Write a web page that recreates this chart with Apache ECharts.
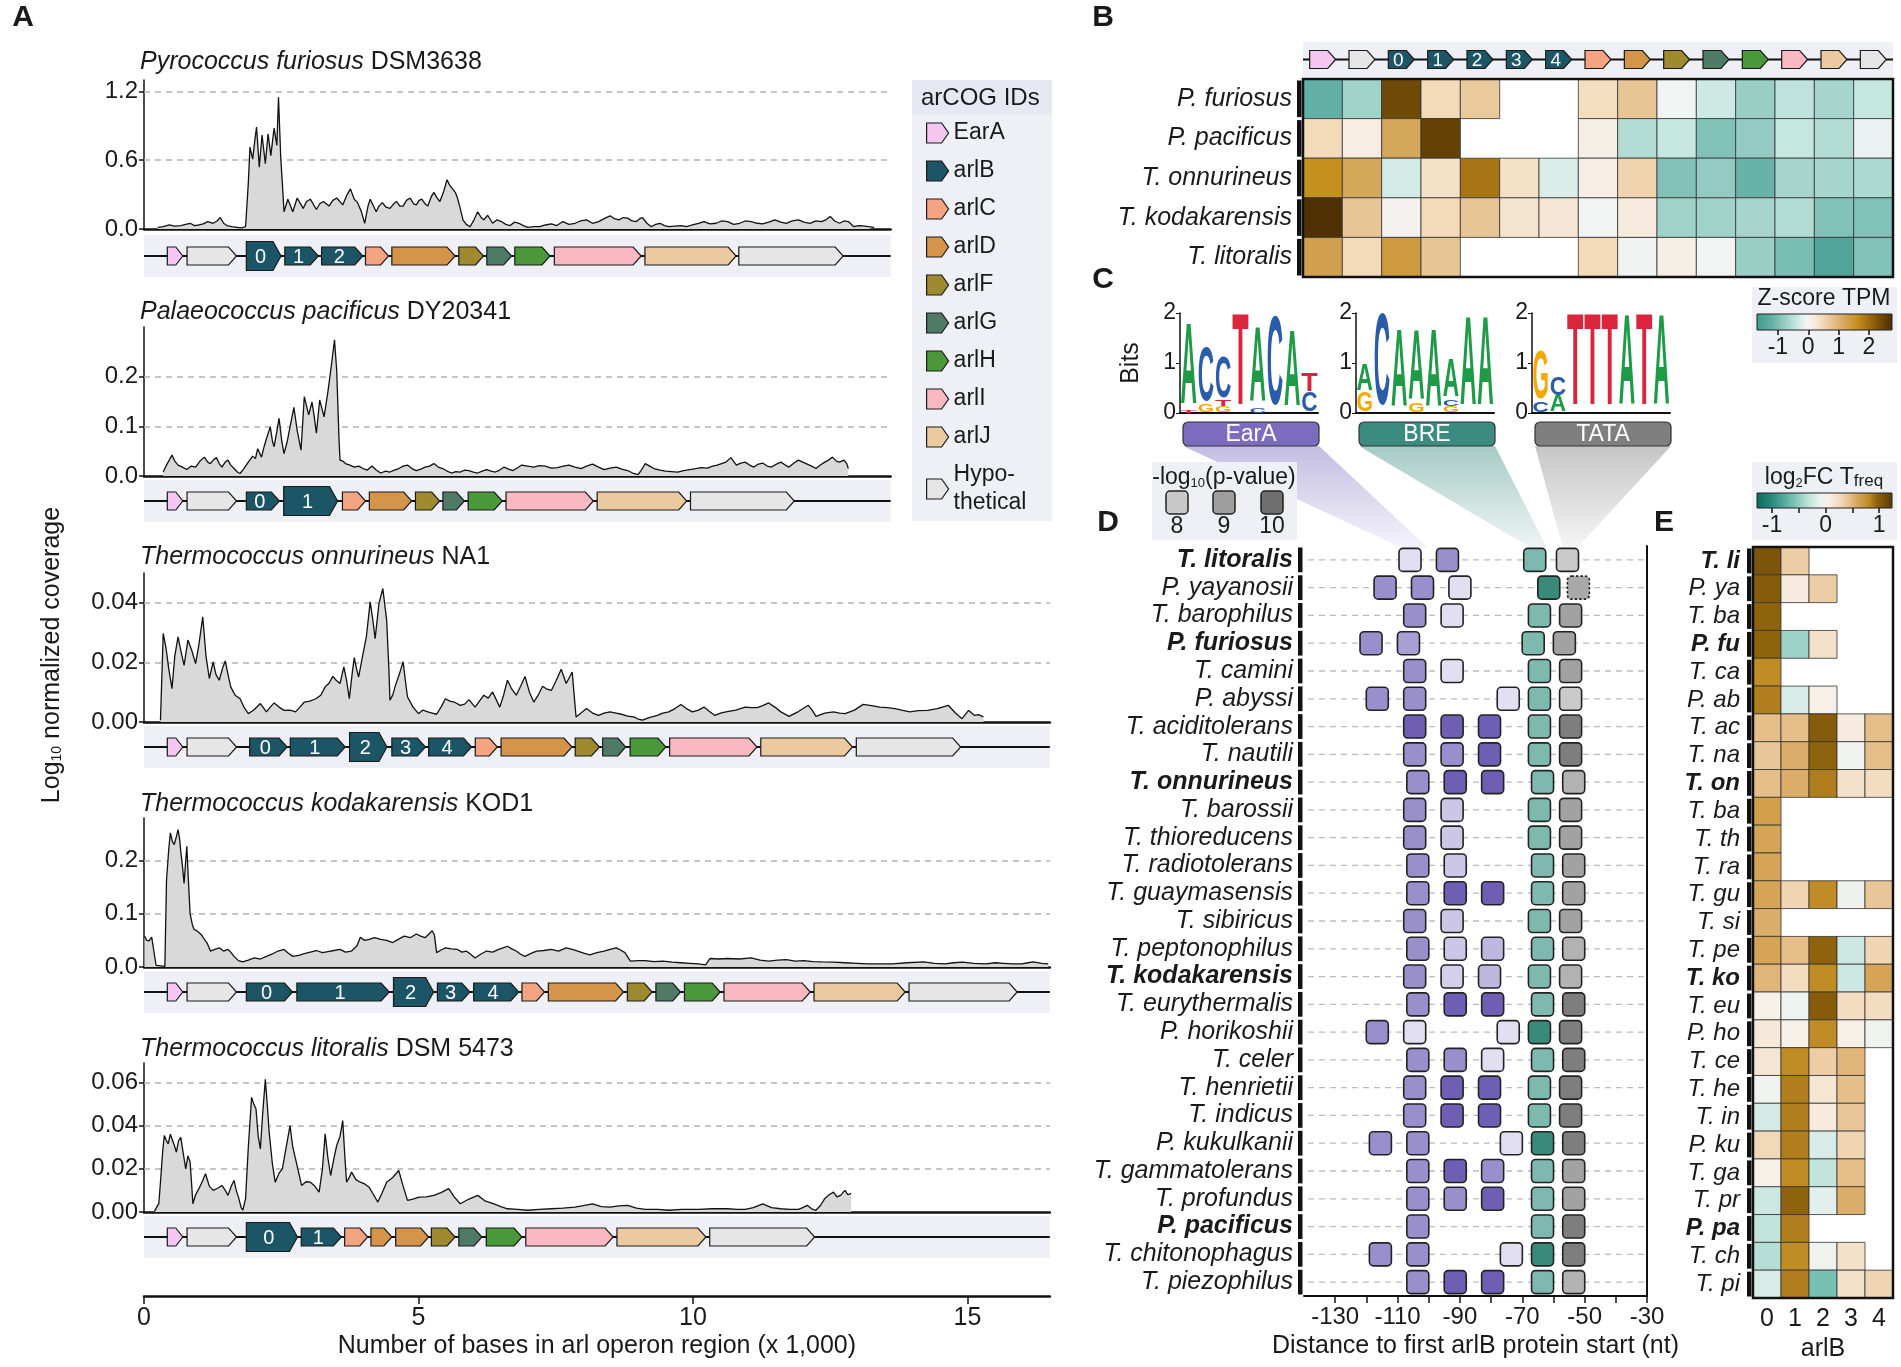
<!DOCTYPE html>
<html><head><meta charset="utf-8">
<script src="https://cdn.jsdelivr.net/npm/echarts@6/dist/echarts.min.js"></script>
<style>html,body{margin:0;padding:0;background:#fff}#c{width:1901px;height:1367px}</style>
</head><body><div id="c"></div>
<script>
// ===================== DATA =====================
const geneTypes = ['EarA','arlB','arlC','arlD','arlF','arlG','arlH','arlI','arlJ','Hypothetical'];
const titleA = [['Pyrococcus furiosus','DSM3638'],['Palaeococcus pacificus','DY20341'],['Thermococcus onnurineus','NA1'],['Thermococcus kodakarensis','KOD1'],['Thermococcus litoralis','DSM 5473']];
const covMax = [1.3,0.3,0.05,0.28,0.069];
const covTicks = [[0,0.6,1.2],[0,0.1,0.2],[0,0.02,0.04],[0,0.1,0.2],[0,0.02,0.04,0.06]];
const covDec = [1,1,2,1,2];
const covXMax = [13.6,13.6,16.5,16.5,16.5];
const xTicksA = [0,5,10,15];
// coverage [kb, log10 normalized coverage]
const covPfu = [[0.25,0.015],[0.35,0.02],[0.46,0.035],[0.56,0.025],[0.67,0.03],[0.76,0.04],[0.84,0.05],[0.92,0.03],[1.0,0.035],[1.08,0.045],[1.16,0.065],[1.26,0.05],[1.33,0.07],[1.39,0.1],[1.45,0.05],[1.51,0.03],[1.6,0.02],[1.69,0.015],[1.78,0.01],[1.85,0.02],[1.9,0.4],[1.93,0.715],[1.98,0.61],[2.02,0.78],[2.05,0.89],[2.1,0.54],[2.15,0.82],[2.21,0.57],[2.26,0.83],[2.31,0.64],[2.37,0.88],[2.42,0.73],[2.45,1.15],[2.49,0.63],[2.52,0.4],[2.55,0.15],[2.62,0.26],[2.71,0.15],[2.79,0.27],[2.9,0.18],[2.96,0.24],[3.03,0.26],[3.14,0.17],[3.2,0.22],[3.27,0.24],[3.37,0.2],[3.44,0.25],[3.51,0.27],[3.62,0.21],[3.7,0.3],[3.76,0.35],[3.83,0.26],[3.89,0.23],[3.96,0.15],[4.02,0.05],[4.08,0.2],[4.12,0.26],[4.23,0.15],[4.28,0.2],[4.34,0.23],[4.41,0.19],[4.48,0.18],[4.55,0.22],[4.6,0.24],[4.66,0.2],[4.72,0.2],[4.78,0.25],[4.85,0.27],[4.91,0.22],[4.96,0.21],[5.01,0.25],[5.06,0.26],[5.12,0.22],[5.17,0.2],[5.23,0.28],[5.28,0.32],[5.34,0.27],[5.39,0.24],[5.46,0.33],[5.52,0.43],[5.57,0.38],[5.62,0.35],[5.67,0.32],[5.71,0.27],[5.76,0.18],[5.81,0.08],[5.87,0.04],[5.94,0.02],[6.01,0.08],[6.08,0.15],[6.14,0.1],[6.19,0.08],[6.26,0.12],[6.35,0.05],[6.43,0.08],[6.51,0.065],[6.59,0.04],[6.67,0.03],[6.75,0.06],[6.83,0.05],[6.91,0.03],[6.99,0.015],[7.1,0.02],[7.21,0.02],[7.31,0.035],[7.42,0.045],[7.52,0.03],[7.63,0.065],[7.74,0.04],[7.85,0.05],[7.95,0.07],[8.06,0.08],[8.17,0.05],[8.28,0.065],[8.38,0.09],[8.49,0.115],[8.57,0.09],[8.65,0.08],[8.73,0.1],[8.81,0.095],[8.89,0.07],[8.97,0.065],[9.03,0.09],[9.08,0.1],[9.16,0.05],[9.24,0.02],[9.32,0.04],[9.4,0.05],[9.48,0.03],[9.56,0.02],[9.67,0.025],[9.78,0.03],[9.88,0.02],[9.99,0.035],[10.1,0.05],[10.2,0.065],[10.31,0.045],[10.42,0.05],[10.52,0.07],[10.63,0.065],[10.74,0.04],[10.85,0.05],[10.95,0.07],[11.06,0.065],[11.17,0.05],[11.27,0.045],[11.38,0.06],[11.49,0.08],[11.6,0.06],[11.7,0.05],[11.81,0.07],[11.92,0.08],[12.02,0.06],[12.13,0.05],[12.24,0.07],[12.34,0.065],[12.42,0.08],[12.5,0.11],[12.58,0.07],[12.67,0.05],[12.75,0.07],[12.83,0.065],[12.93,0.02],[13.01,0.03],[13.09,0.027],[13.2,0.02],[13.3,0.015]];
const covPpa = [[0.35,0.008],[0.4,0.02],[0.46,0.032],[0.51,0.042],[0.56,0.03],[0.62,0.022],[0.7,0.018],[0.78,0.013],[0.86,0.02],[0.94,0.018],[1.02,0.03],[1.1,0.038],[1.16,0.028],[1.21,0.025],[1.27,0.033],[1.32,0.037],[1.37,0.025],[1.42,0.018],[1.48,0.028],[1.53,0.032],[1.58,0.022],[1.64,0.015],[1.7,0.008],[1.75,0.005],[1.82,0.015],[1.9,0.028],[1.98,0.04],[2.03,0.035],[2.07,0.055],[2.14,0.038],[2.19,0.06],[2.23,0.075],[2.3,0.099],[2.34,0.07],[2.37,0.059],[2.42,0.09],[2.46,0.116],[2.51,0.07],[2.55,0.045],[2.61,0.07],[2.66,0.099],[2.73,0.138],[2.79,0.092],[2.86,0.052],[2.92,0.16],[3.0,0.123],[3.06,0.149],[3.1,0.12],[3.14,0.086],[3.2,0.153],[3.28,0.119],[3.35,0.17],[3.41,0.22],[3.47,0.274],[3.51,0.213],[3.55,0.08],[3.57,0.032],[3.62,0.03],[3.67,0.025],[3.75,0.022],[3.83,0.018],[3.91,0.02],[3.99,0.015],[4.07,0.012],[4.15,0.02],[4.23,0.012],[4.31,0.006],[4.4,0.01],[4.48,0.008],[4.56,0.012],[4.64,0.015],[4.72,0.02],[4.8,0.022],[4.88,0.015],[4.96,0.011],[5.04,0.014],[5.12,0.018],[5.2,0.02],[5.28,0.025],[5.36,0.018],[5.44,0.015],[5.52,0.01],[5.6,0.006],[5.68,0.009],[5.76,0.008],[5.84,0.012],[5.92,0.011],[6.0,0.008],[6.08,0.006],[6.16,0.01],[6.24,0.013],[6.32,0.01],[6.4,0.008],[6.48,0.012],[6.56,0.018],[6.64,0.014],[6.72,0.011],[6.8,0.016],[6.88,0.022],[6.99,0.02],[7.1,0.018],[7.2,0.021],[7.31,0.02],[7.42,0.016],[7.53,0.017],[7.64,0.02],[7.74,0.022],[7.85,0.018],[7.96,0.015],[8.06,0.02],[8.17,0.024],[8.28,0.018],[8.38,0.013],[8.49,0.016],[8.6,0.018],[8.7,0.014],[8.81,0.011],[8.9,0.006],[9.0,0.003],[9.06,0.012],[9.13,0.025],[9.21,0.02],[9.29,0.015],[9.4,0.012],[9.5,0.01],[9.61,0.009],[9.72,0.008],[9.83,0.011],[9.94,0.013],[10.05,0.015],[10.15,0.017],[10.26,0.016],[10.36,0.02],[10.44,0.022],[10.52,0.025],[10.6,0.028],[10.69,0.037],[10.79,0.022],[10.87,0.026],[10.95,0.028],[11.03,0.022],[11.11,0.018],[11.19,0.024],[11.27,0.026],[11.35,0.02],[11.43,0.018],[11.52,0.024],[11.6,0.028],[11.68,0.022],[11.75,0.018],[11.84,0.026],[11.92,0.032],[12.0,0.028],[12.08,0.024],[12.16,0.02],[12.24,0.015],[12.32,0.022],[12.4,0.028],[12.47,0.032],[12.54,0.038],[12.61,0.03],[12.67,0.028],[12.75,0.032],[12.8,0.025],[12.83,0.015]];
const covTon = [[0.3,0.0006],[0.35,0.0297],[0.4,0.025],[0.45,0.018],[0.51,0.0112],[0.56,0.022],[0.62,0.0286],[0.67,0.024],[0.73,0.019],[0.8,0.0275],[0.87,0.024],[0.94,0.0196],[1.0,0.026],[1.07,0.0353],[1.13,0.022],[1.19,0.0146],[1.26,0.0202],[1.31,0.016],[1.37,0.014],[1.43,0.018],[1.48,0.0205],[1.53,0.016],[1.58,0.0118],[1.66,0.009],[1.75,0.0078],[1.82,0.005],[1.9,0.0028],[2.0,0.004],[2.12,0.0062],[2.23,0.0034],[2.3,0.005],[2.37,0.0064],[2.46,0.005],[2.55,0.0039],[2.66,0.004],[2.76,0.0034],[2.84,0.005],[2.92,0.0067],[3.02,0.007],[3.13,0.0078],[3.22,0.009],[3.3,0.0118],[3.37,0.013],[3.44,0.0153],[3.5,0.014],[3.57,0.0129],[3.64,0.0185],[3.69,0.014],[3.74,0.0078],[3.79,0.016],[3.83,0.0216],[3.87,0.018],[3.91,0.0151],[3.98,0.022],[4.05,0.0286],[4.12,0.0403],[4.17,0.034],[4.21,0.028],[4.28,0.0398],[4.35,0.0448],[4.42,0.0342],[4.46,0.018],[4.48,0.0073],[4.53,0.009],[4.58,0.0123],[4.65,0.016],[4.72,0.0202],[4.76,0.014],[4.8,0.0084],[4.9,0.005],[5.0,0.0028],[5.08,0.004],[5.17,0.0034],[5.25,0.003],[5.33,0.0026],[5.41,0.005],[5.49,0.0078],[5.57,0.007],[5.65,0.0067],[5.76,0.0056],[5.84,0.006],[5.92,0.0075],[6.03,0.005],[6.11,0.007],[6.19,0.009],[6.27,0.008],[6.35,0.0101],[6.48,0.005],[6.55,0.009],[6.62,0.014],[6.7,0.011],[6.78,0.009],[6.86,0.012],[6.94,0.0153],[7.02,0.01],[7.1,0.0067],[7.18,0.009],[7.26,0.012],[7.34,0.011],[7.42,0.0106],[7.51,0.014],[7.6,0.0177],[7.69,0.0129],[7.8,0.0168],[7.84,0.008],[7.87,0.0017],[7.96,0.003],[8.06,0.0045],[8.17,0.003],[8.28,0.0022],[8.38,0.003],[8.49,0.0034],[8.6,0.003],[8.7,0.0026],[8.81,0.002],[8.92,0.0017],[9.0,0.001],[9.08,0.0006],[9.2,0.0015],[9.35,0.0022],[9.45,0.003],[9.56,0.0034],[9.67,0.0045],[9.78,0.0059],[9.88,0.0045],[9.99,0.0034],[10.1,0.004],[10.2,0.005],[10.3,0.0035],[10.4,0.0022],[10.5,0.003],[10.6,0.0034],[10.78,0.004],[10.95,0.005],[11.06,0.0048],[11.17,0.0048],[11.27,0.0055],[11.38,0.0064],[11.49,0.005],[11.6,0.0034],[11.75,0.0019],[11.92,0.0035],[12.1,0.0056],[12.17,0.004],[12.24,0.0019],[12.4,0.003],[12.56,0.0034],[12.67,0.003],[12.77,0.0028],[12.94,0.004],[13.1,0.0059],[13.25,0.0055],[13.4,0.005],[13.54,0.0048],[13.68,0.0045],[13.8,0.004],[13.95,0.0034],[14.1,0.0038],[14.27,0.0039],[14.45,0.0045],[14.65,0.0056],[14.78,0.003],[14.9,0.0011],[15.02,0.0039],[15.13,0.0022],[15.2,0.0025],[15.29,0.0017]];
const covTko = [[0.01,0.058],[0.05,0.05],[0.09,0.049],[0.14,0.056],[0.19,0.023],[0.22,0.003],[0.3,0.002],[0.38,0.001],[0.41,0.163],[0.45,0.22],[0.48,0.252],[0.52,0.235],[0.55,0.23],[0.59,0.245],[0.62,0.258],[0.65,0.24],[0.67,0.217],[0.7,0.19],[0.73,0.157],[0.76,0.2],[0.78,0.227],[0.81,0.16],[0.84,0.1],[0.88,0.08],[0.91,0.071],[0.96,0.068],[1.0,0.065],[1.05,0.06],[1.1,0.052],[1.15,0.045],[1.21,0.03],[1.29,0.033],[1.37,0.036],[1.45,0.03],[1.53,0.033],[1.58,0.028],[1.64,0.02],[1.72,0.012],[1.8,0.0095],[1.9,0.013],[2.01,0.017],[2.12,0.015],[2.23,0.02],[2.33,0.024],[2.44,0.03],[2.55,0.033],[2.63,0.026],[2.71,0.02],[2.82,0.022],[2.92,0.025],[3.03,0.028],[3.14,0.031],[3.25,0.027],[3.35,0.029],[3.46,0.031],[3.57,0.033],[3.67,0.028],[3.78,0.03],[3.88,0.04],[3.94,0.056],[4.02,0.05],[4.1,0.052],[4.2,0.055],[4.31,0.052],[4.42,0.05],[4.53,0.046],[4.63,0.052],[4.74,0.058],[4.85,0.055],[4.96,0.062],[5.04,0.058],[5.12,0.055],[5.19,0.062],[5.25,0.068],[5.29,0.06],[5.33,0.027],[5.41,0.032],[5.49,0.036],[5.6,0.034],[5.71,0.033],[5.79,0.028],[5.87,0.03],[5.95,0.024],[6.03,0.017],[6.13,0.024],[6.24,0.03],[6.35,0.028],[6.46,0.033],[6.54,0.036],[6.62,0.039],[6.7,0.034],[6.78,0.03],[6.86,0.024],[6.94,0.02],[7.04,0.025],[7.15,0.03],[7.28,0.031],[7.42,0.033],[7.55,0.03],[7.69,0.036],[7.8,0.033],[7.9,0.03],[8.01,0.026],[8.12,0.023],[8.25,0.027],[8.38,0.03],[8.49,0.033],[8.6,0.036],[8.68,0.032],[8.76,0.027],[8.86,0.011],[9.0,0.012],[9.13,0.012],[9.29,0.01],[9.45,0.011],[9.62,0.009],[9.78,0.008],[9.94,0.007],[10.1,0.006],[10.23,0.004],[10.31,0.016],[10.47,0.015],[10.63,0.016],[10.85,0.015],[11.06,0.017],[11.22,0.013],[11.38,0.011],[11.54,0.013],[11.7,0.014],[11.86,0.011],[12.02,0.012],[12.18,0.01],[12.35,0.0095],[12.56,0.009],[12.77,0.008],[12.99,0.007],[13.2,0.006],[13.42,0.006],[13.63,0.006],[13.9,0.008],[14.2,0.0095],[14.4,0.007],[14.59,0.006],[14.75,0.008],[14.91,0.009],[15.12,0.007],[15.34,0.006],[15.5,0.008],[15.66,0.007],[15.82,0.006],[15.99,0.006],[16.1,0.008],[16.2,0.0095],[16.35,0.007],[16.47,0.006]];
const covTli = [[0.19,0.0003],[0.27,0.004],[0.3,0.0138],[0.34,0.028],[0.37,0.0354],[0.41,0.033],[0.44,0.0315],[0.48,0.036],[0.51,0.0362],[0.55,0.031],[0.59,0.0277],[0.63,0.033],[0.67,0.0346],[0.71,0.028],[0.76,0.02],[0.8,0.026],[0.84,0.023],[0.87,0.012],[0.89,0.0038],[0.94,0.008],[1.0,0.0108],[1.06,0.014],[1.12,0.0177],[1.19,0.012],[1.26,0.01],[1.34,0.011],[1.42,0.0123],[1.48,0.01],[1.53,0.0077],[1.59,0.012],[1.64,0.0146],[1.68,0.01],[1.72,0.0069],[1.77,0.002],[1.8,0.0008],[1.85,0.0062],[1.9,0.03],[1.96,0.0531],[2.0,0.05],[2.04,0.0477],[2.08,0.035],[2.12,0.0292],[2.16,0.045],[2.21,0.0615],[2.25,0.048],[2.28,0.0369],[2.34,0.022],[2.39,0.0138],[2.46,0.018],[2.52,0.02],[2.59,0.03],[2.66,0.04],[2.71,0.03],[2.76,0.0246],[2.82,0.018],[2.87,0.0123],[2.95,0.014],[3.03,0.0138],[3.11,0.012],[3.19,0.0092],[3.25,0.02],[3.3,0.0362],[3.35,0.025],[3.4,0.0169],[3.46,0.025],[3.51,0.0308],[3.57,0.035],[3.62,0.0423],[3.66,0.025],[3.69,0.0138],[3.74,0.016],[3.78,0.0185],[3.86,0.015],[3.94,0.0138],[4.02,0.013],[4.1,0.0115],[4.18,0.008],[4.26,0.0046],[4.34,0.009],[4.42,0.0138],[4.53,0.016],[4.64,0.0192],[4.72,0.012],[4.8,0.0054],[4.9,0.006],[5.01,0.0069],[5.14,0.007],[5.28,0.0077],[5.41,0.009],[5.55,0.0108],[5.65,0.007],[5.76,0.0038],[5.92,0.006],[6.08,0.0077],[6.22,0.005],[6.35,0.004],[6.5,0.0025],[6.62,0.0015],[6.8,0.0012],[6.99,0.0008],[7.2,0.0012],[7.42,0.0015],[7.63,0.0018],[7.85,0.0023],[8.0,0.003],[8.17,0.0038],[8.33,0.0025],[8.49,0.0023],[8.65,0.0028],[8.81,0.0031],[8.97,0.0018],[9.13,0.0012],[9.35,0.0012],[9.56,0.0008],[9.8,0.0012],[10.1,0.0012],[10.35,0.0015],[10.63,0.0015],[10.8,0.0012],[10.95,0.0012],[11.1,0.002],[11.27,0.0038],[11.43,0.002],[11.6,0.0015],[11.76,0.0012],[11.92,0.0012],[12.0,0.002],[12.08,0.0031],[12.16,0.0015],[12.24,0.0008],[12.32,0.003],[12.4,0.0062],[12.48,0.008],[12.56,0.0092],[12.62,0.007],[12.69,0.0077],[12.73,0.009],[12.77,0.01],[12.82,0.008],[12.88,0.0085]];
// gene tracks: [start kb, end kb, arCOG, label, highlighted]
const genesPfu = [[0.41,0.72,'EarA'],[0.77,1.70,'Hypothetical'],[1.85,2.51,'arlB','0',1],[2.55,3.19,'arlB','1'],[3.22,4.00,'arlB','2'],[4.02,4.47,'arlC'],[4.50,5.68,'arlD'],[5.72,6.20,'arlF'],[6.23,6.71,'arlG'],[6.74,7.41,'arlH'],[7.46,9.07,'arlI'],[9.11,10.80,'arlJ'],[10.82,12.75,'Hypothetical']];
const genesPpa = [[0.41,0.72,'EarA'],[0.77,1.70,'Hypothetical'],[1.85,2.48,'arlB','0'],[2.53,3.54,'arlB','1',1],[3.60,4.05,'arlC'],[4.09,4.89,'arlD'],[4.93,5.40,'arlF'],[5.43,5.85,'arlG'],[5.89,6.54,'arlH'],[6.58,8.20,'arlI'],[8.24,9.90,'arlJ'],[9.94,11.86,'Hypothetical']];
const genesTon = [[0.41,0.72,'EarA'],[0.77,1.70,'Hypothetical'],[1.91,2.62,'arlB','0'],[2.65,3.68,'arlB','1'],[3.73,4.44,'arlB','2',1],[4.50,5.14,'arlB','3'],[5.17,5.98,'arlB','4'],[6.02,6.45,'arlC'],[6.49,7.81,'arlD'],[7.84,8.31,'arlF'],[8.34,8.79,'arlG'],[8.84,9.52,'arlH'],[9.56,11.18,'arlI'],[11.22,12.92,'arlJ'],[12.96,14.89,'Hypothetical']];
const genesTko = [[0.41,0.72,'EarA'],[0.77,1.70,'Hypothetical'],[1.85,2.72,'arlB','0'],[2.77,4.48,'arlB','1'],[4.53,5.29,'arlB','2',1],[5.33,5.95,'arlB','3'],[5.99,6.84,'arlB','4'],[6.87,7.31,'arlC'],[7.35,8.75,'arlD'],[8.79,9.27,'arlF'],[9.31,9.79,'arlG'],[9.83,10.51,'arlH'],[10.55,12.15,'arlI'],[12.19,13.88,'arlJ'],[13.92,15.92,'Hypothetical']];
const genesTli = [[0.41,0.72,'EarA'],[0.77,1.70,'Hypothetical'],[1.85,2.81,'arlB','0',1],[2.85,3.61,'arlB','1'],[3.64,4.09,'arlC'],[4.12,4.53,'arlD'],[4.57,5.20,'arlD'],[5.22,5.68,'arlF'],[5.72,6.17,'arlG'],[6.22,6.90,'arlH'],[6.94,8.56,'arlI'],[8.60,10.25,'arlJ'],[10.29,12.23,'Hypothetical']];
// Panel B
const bRows = ['P. furiosus','P. pacificus','T. onnurineus','T. kodakarensis','T. litoralis'];
const bCols = ['EarA','Hypothetical','arlB','arlB','arlB','arlB','arlB','arlC','arlD','arlF','arlG','arlH','arlI','arlJ','Hypothetical'];
const bColLabels = ['','','0','1','2','3','4','','','','','','','',''];
const zScore = [
  [-1.2,-0.7,2.4,0.45,0.7,null,null,0.4,0.75,-0.05,-0.35,-0.75,-0.45,-0.65,-0.4],
  [0.45,0.15,1.2,2.5,null,null,null,0.1,-0.55,-0.4,-0.95,-0.8,-0.4,-0.55,-0.1],
  [1.6,1.2,-0.3,0.35,1.9,0.35,-0.25,0.12,0.55,-0.95,-0.8,-1.15,-0.65,-0.65,-0.6],
  [2.7,0.75,0.0,0.45,0.75,0.3,0.25,-0.05,0.18,-0.7,-0.7,-0.65,-0.55,-0.95,-0.95],
  [1.3,0.45,1.4,0.75,null,null,null,0.45,-0.07,0.1,-0.06,-0.75,-1.0,-1.45,-0.95]
];
const zRange = [-1.69,2.76];
const zTicks = [-1,0,1,2];
// Panel C: sequence logos, columns stacked bottom-up [letter, bits]
const logoEarA = [[['T',0.04],['A',1.65]],[['G',0.15],['C',1.1]],[['G',0.12],['T',0.12],['C',0.83]],[['T',1.87]],[['C',0.1],['A',1.5]],[['C',1.8]],[['A',1.53]],[['C',0.4],['T',0.38]]];
const logoBRE = [[['G',0.4],['A',0.53]],[['C',1.87]],[['A',1.57]],[['G',0.17],['A',1.4]],[['A',1.57]],[['G',0.12],['C',0.14],['A',0.77]],[['A',1.8]],[['A',1.8]]];
const logoTATA = [[['C',0.2],['G',0.97]],[['A',0.33],['C',0.37]],[['T',1.87]],[['T',1.87]],[['T',1.87]],[['A',1.83]],[['T',1.87]],[['A',1.83]]];
const logoNames = ['EarA','BRE','TATA'];
// Panel D
const dSpecies = ['T. litoralis','P. yayanosii','T. barophilus','P. furiosus','T. camini','P. abyssi','T. aciditolerans','T. nautili','T. onnurineus','T. barossii','T. thioreducens','T. radiotolerans','T. guaymasensis','T. sibiricus','T. peptonophilus','T. kodakarensis','T. eurythermalis','P. horikoshii','T. celer','T. henrietii','T. indicus','P. kukulkanii','T. gammatolerans','T. profundus','P. pacificus','T. chitonophagus','T. piezophilus'];
const boldRows = [0,3,8,15,24];
// [row, position (nt), -log10(p)]
const dEarA = [[0,-106,8],[0,-94,9],[1,-114,9],[1,-102,9],[1,-90,8],[2,-104.5,9],[2,-92.5,8],[3,-118.5,9],[3,-106.5,8.8],[4,-104.5,9],[4,-92.5,8],[5,-116.5,9],[5,-104.5,9],[5,-74.5,8],[6,-104.5,10],[6,-92.5,10],[6,-80.5,10],[7,-104.5,9],[7,-92.5,9],[7,-80.5,10],[8,-103.5,9],[8,-91.5,10],[8,-79.5,10],[9,-104.5,9],[9,-92.5,8.3],[10,-104.5,9],[10,-92.5,8.3],[11,-103.5,9],[11,-91.5,8.3],[12,-103.5,9],[12,-91.5,10],[12,-79.5,10],[13,-104.5,9],[13,-92.5,8.3],[14,-103.5,9],[14,-91.5,8.3],[14,-79.5,8.5],[15,-104.5,9],[15,-92.5,8.2],[15,-80.5,8.5],[16,-103.5,9],[16,-91.5,10],[16,-79.5,10],[17,-116.5,9],[17,-104.5,8],[17,-74.5,8],[18,-103.5,9],[18,-91.5,9],[18,-79.5,8],[19,-104.5,9],[19,-92.5,10],[19,-80.5,10],[20,-104.5,9],[20,-92.5,10],[20,-80.5,10],[21,-115.5,9],[21,-103.5,9],[21,-73.5,8],[22,-103.5,9],[22,-91.5,10],[22,-79.5,9],[23,-103.5,9],[23,-91.5,9],[23,-79.5,10],[24,-103.5,9],[25,-115.5,9],[25,-103.5,9],[25,-73.5,8],[26,-103.5,9],[26,-91.5,10],[26,-79.5,10]];
const dBRE = [[0,-66,9],[1,-61.5,10],[2,-64.5,9],[3,-66.5,9],[4,-64.5,9],[5,-64.5,9],[6,-64.5,9],[7,-64.5,9],[8,-63.5,9],[9,-64.5,9],[10,-64.5,9],[11,-63.5,9],[12,-63.5,9],[13,-64.5,9],[14,-63.5,9],[15,-64.5,9],[16,-63.5,9],[17,-64.5,10],[18,-63.5,9],[19,-64.5,9],[20,-64.5,9],[21,-63.5,10],[22,-63.5,9],[23,-63.5,9],[24,-63.5,9],[25,-63.5,10],[26,-63.5,9]];
// [row, position, -log10(p), not significant]
const dTATA = [[0,-55.5,8,0],[1,-52,9,1],[2,-54.5,9,0],[3,-56.5,9,0],[4,-54.5,9,0],[5,-54.5,8,0],[6,-54.5,10,0],[7,-54.5,10,0],[8,-53.5,8.6,0],[9,-54.5,9,0],[10,-54.5,9,0],[11,-53.5,9,0],[12,-53.5,9,0],[13,-54.5,9,0],[14,-53.5,8.6,0],[15,-54.5,8.6,0],[16,-53.5,10,0],[17,-54.5,10,0],[18,-53.5,10,0],[19,-54.5,10,0],[20,-54.5,10,0],[21,-53.5,10,0],[22,-53.5,9,0],[23,-53.5,9,0],[24,-53.5,10,0],[25,-53.5,10,0],[26,-53.5,8.6,0]];
const dRange = [-140,-30];
const dTicks = [-130,-120,-110,-100,-90,-80,-70,-60,-50,-40,-30];
const dLabels = [-130,-110,-90,-70,-50,-30];
const pLegend = [8,9,10];
// Panel E
const eAbbr = ['T. li','P. ya','T. ba','P. fu','T. ca','P. ab','T. ac','T. na','T. on','T. ba','T. th','T. ra','T. gu','T. si','T. pe','T. ko','T. eu','P. ho','T. ce','T. he','T. in','P. ku','T. ga','T. pr','P. pa','T. ch','T. pi'];
const eCols = ['0','1','2','3','4'];
const eFC = [
  [1.05,0.35,null,null,null],[1.0,0.1,0.35,null,null],[0.95,null,null,null,null],[0.95,-0.45,0.2,null,null],[0.8,null,null,null,null],
  [0.85,-0.2,0.03,null,null],[0.45,0.45,1.0,0.1,0.45],[0.4,0.55,0.95,-0.05,0.45],[0.45,0.55,0.85,0.2,0.25],[0.65,null,null,null,null],
  [0.6,null,null,null,null],[0.6,null,null,null,null],[0.6,0.3,0.8,-0.07,0.4],[0.55,null,null,null,null],[0.6,0.45,0.95,-0.25,0.3],
  [0.5,0.25,0.8,-0.25,0.6],[0.05,-0.1,1.0,0.25,0.25],[0.12,0.05,0.8,0.05,-0.05],[0.15,0.8,0.35,0.5,null],[-0.05,0.85,0.15,0.45,null],
  [-0.22,0.85,0.1,0.4,null],[0.28,0.85,-0.2,0.3,null],[0.05,0.8,-0.3,0.45,null],[-0.25,0.95,-0.15,0.55,null],[-0.3,0.85,null,null,null],
  [-0.35,0.8,-0.05,0.2,null],[-0.2,0.85,-0.6,0.2,0.3]
];
const fcRange = [-1.28,1.24];
const fcTicks = [-1,-0.5,0,0.5,1];
const fcLabels = [-1,0,1];

// ===================== STYLE =====================
const FONT = '"Liberation Sans", Arial, Helvetica, sans-serif';
const INK = '#1a1a1a';
const GENE_COLORS = {EarA:'#f5c6f2', arlB:'#1c5566', arlC:'#f5a482', arlD:'#d4944a', arlF:'#a08a30', arlG:'#4f7a66', arlH:'#4b983a', arlI:'#f9b8c2', arlJ:'#eccaa0', Hypothetical:'#e6e6e6'};
const LOGO_COLORS = {A:'#1f9a46', C:'#2a5caa', G:'#f5a800', T:'#d9263d'};
const GLYPH_W = {A:0.722, C:0.722, G:0.778, T:0.611};
const Z_STOPS = [[-1.69,'#3d9a8e'],[-1.2,'#62b0a5'],[-0.7,'#9fd2c9'],[-0.35,'#cde9e4'],[-0.05,'#f2f4f3'],[0.15,'#f7ede3'],[0.45,'#f3dbb9'],[0.75,'#e8c595'],[1.3,'#d1a04e'],[1.6,'#c5901e'],[2.0,'#a06b10'],[2.4,'#6e4a06'],[2.76,'#4a2c04']];
const FC_STOPS = [[-1.28,'#0b6a5e'],[-1.0,'#27897c'],[-0.6,'#78c0b4'],[-0.3,'#c2e4dd'],[-0.1,'#ecf3f1'],[0.05,'#f7f0e8'],[0.25,'#f3dcc0'],[0.45,'#e6be8a'],[0.6,'#d6a457'],[0.8,'#c08c25'],[0.95,'#8f620d'],[1.24,'#5a3a06']];
const P_STOPS = {
  ea:[[8,'#e2dff2'],[9,'#9a8fcd'],[10,'#6f5fb4']],
  bre:[[8,'#b8dcd5'],[9,'#7db9ae'],[10,'#3a8a7c']],
  tata:[[8,'#cacaca'],[9,'#a2a2a2'],[10,'#7e7e7e']],
  leg:[[8,'#c8c8c8'],[9,'#9e9e9e'],[10,'#6f6f6f']]
};
const KB = 54.9, A_LEFT = 144, A_TOPS = [80,327,573,818,1063], A_H = 149;
const T_CENTERS = [256,501,747,992,1237];

function hex2rgb(h){h=h.replace('#','');return [parseInt(h.slice(0,2),16),parseInt(h.slice(2,4),16),parseInt(h.slice(4,6),16)];}
function scaleColor(stops, v){
  if (v <= stops[0][0]) return stops[0][1];
  for (let i=1;i<stops.length;i++){
    if (v <= stops[i][0]) {
      const a=hex2rgb(stops[i-1][1]), b=hex2rgb(stops[i][1]);
      const t=(v-stops[i-1][0])/(stops[i][0]-stops[i-1][0]);
      return 'rgb('+a.map((x,j)=>Math.round(x+(b[j]-x)*t)).join(',')+')';
    }
  }
  return stops[stops.length-1][1];
}
function gradientFrom(stops, min, max){
  return {type:'linear', x:0, y:0, x2:1, y2:0, colorStops: stops.map(([v,c])=>({offset:Math.max(0,Math.min(1,(v-min)/(max-min))), color:c}))};
}
function arrowShape(x0, x1, y, h, color, label, fs){
  const tip = Math.min(8, (x1-x0)*0.45);
  const ch = [{type:'polygon', shape:{points:[[x0,y-h/2],[x1-tip,y-h/2],[x1,y],[x1-tip,y+h/2],[x0,y+h/2]]}, style:{fill:color, stroke:'#1a1a1a', lineWidth:1.2}}];
  if (label) ch.push({type:'text', x:(x0+x1-tip)/2+1, y:y+1, style:{text:label, fill:'#fff', font:fs+'px '+FONT, align:'center', verticalAlign:'middle'}});
  return {type:'group', children:ch};
}
function backboneRender(params){
  const cs = params.coordSys, y = cs.y + cs.height/2;
  return {type:'line', shape:{x1:cs.x, y1:y, x2:cs.x+cs.width, y2:y}, style:{stroke:'#111', lineWidth:2}};
}
function rowBarRender(params, api){
  const cs = params.coordSys;
  const yc = api.coord([api.value(0), api.value(1)])[1];
  const band = api.size([0,1])[1];
  return {type:'rect', shape:{x:cs.x-6, y:yc-band/2+1.5, width:4.5, height:band-3}, style:{fill:'#111'}};
}

const option = {
  animation:false, backgroundColor:'#fff',
  textStyle:{fontFamily:FONT, color:INK},
  grid:[], xAxis:[], yAxis:[], series:[]
};
// each grid gets exactly one x axis and one y axis with the same index
function addGrid(g, x, y){ const i = option.grid.length; option.grid.push(g); x.gridIndex=i; y.gridIndex=i; option.xAxis.push(x); option.yAxis.push(y); return i; }

// ---- Panel A coverage
const covs = [covPfu, covPpa, covTon, covTko, covTli];
covs.forEach((d,i)=>{
  const gi = addGrid({left:A_LEFT, top:A_TOPS[i], width:covXMax[i]*KB, height:A_H},
    {type:'value', min:0, max:covXMax[i], axisLine:{show:true, onZero:false, lineStyle:{color:'#111', width:2.5}}, axisTick:{show:false}, axisLabel:{show:false}, splitLine:{show:false}},
    {type:'value', min:0, max:covMax[i], axisLine:{show:true, lineStyle:{color:'#111', width:1.5}},
     axisTick:{show:true, length:5, lineStyle:{color:'#111', width:1.5}, customValues:covTicks[i]},
     axisLabel:{fontSize:24, color:INK, margin:6, customValues:covTicks[i], formatter:v=>Number(v).toFixed(covDec[i])}, splitLine:{show:false}});
  option.series.push({type:'line', xAxisIndex:gi, yAxisIndex:gi, data:d, symbol:'none', showSymbol:false, silent:true, z:3,
    lineStyle:{color:'#111', width:1.3}, areaStyle:{color:'#d9d9d9', opacity:1},
    markLine:{silent:true, symbol:'none', z:1, label:{show:false}, lineStyle:{color:'#b3b3b3', type:[6,5], width:1.5},
      data:covTicks[i].filter(v=>v>0).map(v=>({yAxis:v}))}});
});
// ---- Panel A gene tracks
const tracks = [genesPfu, genesPpa, genesTon, genesTko, genesTli];
tracks.forEach((genes,t)=>{
  const gi = addGrid({left:A_LEFT, top:T_CENTERS[t]-21, width:covXMax[t]*KB, height:42, show:true, backgroundColor:'#eef0f6', borderWidth:0},
    {type:'value', min:0, max:covXMax[t], show:false}, {type:'value', min:-1, max:1, show:false});
  option.series.push({type:'custom', xAxisIndex:gi, yAxisIndex:gi, silent:true, data:[[0,0]], renderItem:backboneRender, z:2});
  geneTypes.forEach(type=>{
    const sub = genes.filter(g=>g[2]===type);
    if (!sub.length) return;
    option.series.push({type:'custom', name:type, xAxisIndex:gi, yAxisIndex:gi, silent:true, z:3,
      itemStyle:{color:GENE_COLORS[type], borderColor:'#1a1a1a', borderWidth:1},
      data:sub.map(g=>[g[0],g[1],0]), encode:{x:[0,1], y:2},
      renderItem:(params, api)=>{
        const g = sub[params.dataIndex];
        const a = api.coord([g[0],0]), b = api.coord([g[1],0]);
        const big = g[4]===1;
        return arrowShape(a[0]+0.8, b[0]-0.8, a[1], big?29:18, GENE_COLORS[type], g[3]||'', 20);
      }});
  });
});
// ---- Panel A bottom axis
addGrid({left:A_LEFT, top:1295, width:16.5*KB, height:1},
  {type:'value', min:0, max:16.5, position:'bottom', axisLine:{show:true, onZero:false, lineStyle:{color:'#111', width:2.5}},
   axisTick:{show:true, length:8, lineStyle:{color:'#111', width:1.5}, customValues:xTicksA},
   axisLabel:{fontSize:25, color:INK, margin:10, customValues:xTicksA}, splitLine:{show:false},
   name:'Number of bases in arl operon region (x 1,000)', nameLocation:'middle', nameGap:38, nameTextStyle:{fontSize:25, color:INK}},
  {type:'value', show:false});

// ---- Panel B gene strip
{
  const gi = addGrid({left:1303, top:42, width:590, height:35, show:true, backgroundColor:'#eef0f6', borderWidth:0},
    {type:'category', data:bCols.map((c,i)=>String(i)), show:false}, {type:'value', min:-1, max:1, show:false});
  option.series.push({type:'custom', xAxisIndex:gi, yAxisIndex:gi, silent:true, data:[[0,0]], renderItem:backboneRender, z:2});
  option.series.push({type:'custom', xAxisIndex:gi, yAxisIndex:gi, silent:true, z:3, data:bCols.map((c,i)=>[i,0]),
    renderItem:(params, api)=>{
      const i = params.dataIndex; const p = api.coord([i,0]);
      return arrowShape(p[0]-13, p[0]+13, p[1], 18, GENE_COLORS[bCols[i]], bColLabels[i], 19);
    }});
}
// ---- Panel B heatmap
{
  const gi = addGrid({left:1303, top:79, width:590, height:198},
    {type:'category', data:bCols.map((c,i)=>String(i)), show:false},
    {type:'category', data:bRows, inverse:true, axisLine:{show:false}, axisTick:{show:false},
     axisLabel:{fontSize:25, fontStyle:'italic', color:INK, margin:11, interval:0}});
  const cells = [];
  zScore.forEach((row,r)=>row.forEach((v,c)=>{ if (v!==null) cells.push([c,r,v]); }));
  option.series.push({type:'custom', xAxisIndex:gi, yAxisIndex:gi, silent:true, data:cells, encode:{x:0,y:1},
    renderItem:(params, api)=>{
      const p = api.coord([api.value(0), api.value(1)]); const s = api.size([1,1]);
      return {type:'rect', shape:{x:p[0]-s[0]/2, y:p[1]-s[1]/2, width:s[0], height:s[1]}, style:{fill:scaleColor(Z_STOPS, api.value(2)), stroke:'#333', lineWidth:0.8}};
    }});
  option.series.push({type:'custom', xAxisIndex:gi, yAxisIndex:gi, silent:true, data:bRows.map((r,i)=>[0,i]), encode:{x:0,y:1}, renderItem:rowBarRender});
}
// ---- Panel C logos
const logos = [logoEarA, logoBRE, logoTATA];
const logoLeft = [1180, 1356, 1532];
logos.forEach((logo, li)=>{
  const gi = addGrid({left:logoLeft[li], top:313, width:138, height:100},
    {type:'category', data:logo.map((c,i)=>String(i)), axisLine:{show:true, lineStyle:{color:'#111', width:2}}, axisTick:{show:false}, axisLabel:{show:false}},
    {type:'value', min:0, max:2, interval:1, axisLine:{show:true, lineStyle:{color:'#111', width:1.5}}, axisTick:{show:true, length:4, lineStyle:{color:'#111'}},
     axisLabel:{fontSize:23, color:INK, margin:4}, splitLine:{show:false}});
  option.series.push({type:'custom', xAxisIndex:gi, yAxisIndex:gi, silent:true, data:logo.map((c,i)=>[i,0]), encode:{x:0,y:1},
    renderItem:(params, api)=>{
      const i = params.dataIndex; const col = logo[i];
      const cw = api.size([1,0])[0]; const cx = api.coord([i,0])[0];
      let acc = 0; const ch = [];
      col.forEach(([L,h])=>{
        const yb = api.coord([i,acc])[1], yt = api.coord([i,acc+h])[1]; acc += h;
        const hh = yb - yt; if (hh < 0.5) return;
        const fs = 100;
        ch.push({type:'text', x:cx, y:(yb+yt)/2 + 1.1*hh/(fs*0.716), scaleX:(cw*0.95)/(fs*GLYPH_W[L]), scaleY:hh/(fs*0.716),
          style:{text:L, font:'bold '+fs+'px '+FONT, fill:LOGO_COLORS[L], align:'center', verticalAlign:'middle'}});
      });
      return {type:'group', children:ch};
    }});
});
// ---- Panel D
let dGrid;
{
  const gi = addGrid({left:1304, top:546, width:343, height:750},
    {type:'value', min:dRange[0], max:dRange[1], axisLine:{show:true, onZero:false, lineStyle:{color:'#111', width:2}},
     axisTick:{show:true, length:7, lineStyle:{color:'#111', width:1.5}, customValues:dTicks},
     axisLabel:{fontSize:24, color:INK, margin:9, customValues:dLabels}, splitLine:{show:false},
     name:'Distance to first arlB protein start (nt)', nameLocation:'middle', nameGap:37, nameTextStyle:{fontSize:25, color:INK}},
    {type:'category', data:dSpecies, inverse:true, axisLine:{show:false}, axisTick:{show:false},
     axisLabel:{interval:0, margin:11, formatter:(v,idx)=>boldRows.includes(idx)?'{b|'+v+'}':'{n|'+v+'}',
       rich:{b:{fontSize:25, fontStyle:'italic', fontWeight:'bold', color:INK, fontFamily:FONT}, n:{fontSize:25, fontStyle:'italic', color:INK, fontFamily:FONT}}}});
  dGrid = gi;
  option.series.push({type:'custom', xAxisIndex:gi, yAxisIndex:gi, silent:true, z:1, data:dSpecies.map((s,i)=>[dRange[0],i]), encode:{x:0,y:1},
    renderItem:(params, api)=>{ const cs = params.coordSys; const y = api.coord([api.value(0), api.value(1)])[1];
      return {type:'line', shape:{x1:cs.x+4, y1:y, x2:cs.x+cs.width-2, y2:y}, style:{stroke:'#bcbcbc', lineWidth:1.3, lineDash:[6,5]}}; }});
  option.series.push({type:'custom', xAxisIndex:gi, yAxisIndex:gi, silent:true, data:dSpecies.map((s,i)=>[dRange[0],i]), encode:{x:0,y:1}, renderItem:rowBarRender});
  const sq = (arr, stops, name)=>({type:'custom', name:name, xAxisIndex:gi, yAxisIndex:gi, silent:true, z:4, data:arr.map(d=>[d[1],d[0]]), encode:{x:0,y:1},
    renderItem:(params, api)=>{ const it = arr[params.dataIndex]; const p = api.coord([it[1], it[0]]);
      const dotted = it[3]===1;
      return {type:'rect', shape:{x:p[0]-11, y:p[1]-11.5, width:22, height:23, r:4},
        style:{fill: dotted ? '#a9a9a9' : scaleColor(stops, it[2]), stroke:'#222', lineWidth:1.6, lineDash: dotted?[2.5,2]:null}}; }});
  option.series.push(sq(dEarA, P_STOPS.ea, 'EarA motif'), sq(dBRE, P_STOPS.bre, 'BRE motif'), sq(dTATA, P_STOPS.tata, 'TATA motif'));
}
// ---- Panel E
{
  const gi = addGrid({left:1753, top:547, width:140, height:751},
    {type:'category', data:eCols, axisLine:{show:false}, axisTick:{show:false}, axisLabel:{fontSize:25, color:INK, margin:9},
     name:'arlB', nameLocation:'middle', nameGap:37, nameTextStyle:{fontSize:25, color:INK}},
    {type:'category', data:eAbbr, inverse:true, axisLine:{show:false}, axisTick:{show:false},
     axisLabel:{interval:0, margin:13, formatter:(v,idx)=>boldRows.includes(idx)?'{b|'+v+'}':'{n|'+v+'}',
       rich:{b:{fontSize:24, fontStyle:'italic', fontWeight:'bold', color:INK, fontFamily:FONT}, n:{fontSize:24, fontStyle:'italic', color:INK, fontFamily:FONT}}}});
  const cells = [];
  eFC.forEach((row,r)=>row.forEach((v,c)=>{ if (v!==null) cells.push([c,r,v]); }));
  option.series.push({type:'custom', xAxisIndex:gi, yAxisIndex:gi, silent:true, data:cells, encode:{x:0,y:1},
    renderItem:(params, api)=>{
      const p = api.coord([api.value(0), api.value(1)]); const s = api.size([1,1]);
      return {type:'rect', shape:{x:p[0]-s[0]/2, y:p[1]-s[1]/2, width:s[0], height:s[1]}, style:{fill:scaleColor(FC_STOPS, api.value(2)), stroke:'#333', lineWidth:0.8}};
    }});
  option.series.push({type:'custom', xAxisIndex:gi, yAxisIndex:gi, silent:true, data:eAbbr.map((r,i)=>[0,i]), encode:{x:0,y:1}, renderItem:rowBarRender});
}
// ---- Colour bars
addGrid({left:1757, top:314, width:135, height:16, show:true, backgroundColor:gradientFrom(Z_STOPS, zRange[0], zRange[1]), borderColor:'#222', borderWidth:1, z:5},
  {type:'value', min:zRange[0], max:zRange[1], axisLine:{show:false}, axisTick:{show:true, length:5, lineStyle:{color:'#111', width:1.5}, customValues:zTicks},
   axisLabel:{fontSize:23, color:INK, margin:6, customValues:zTicks}, splitLine:{show:false}},
  {type:'value', show:false});
addGrid({left:1757, top:493, width:135, height:15, show:true, backgroundColor:gradientFrom(FC_STOPS, fcRange[0], fcRange[1]), borderColor:'#222', borderWidth:1, z:5},
  {type:'value', min:fcRange[0], max:fcRange[1], axisLine:{show:false}, axisTick:{show:true, length:5, lineStyle:{color:'#111', width:1.5}, customValues:fcTicks},
   axisLabel:{fontSize:23, color:INK, margin:6, customValues:fcLabels}, splitLine:{show:false}},
  {type:'value', show:false});
// extra right-hand frame axis of panel D (pushed last so indices stay aligned)
option.yAxis.push({gridIndex:dGrid, type:'category', data:dSpecies, inverse:true, position:'right', axisLine:{show:true, lineStyle:{color:'#111', width:2}}, axisTick:{show:false}, axisLabel:{show:false}});

// ---- Legend (arCOG IDs)
option.legend = {orient:'vertical', left:921, top:114, itemWidth:22, itemHeight:20, itemGap:10, selectedMode:false,
  icon:'path://M0,0 L15,0 L22,10 L15,20 L0,20 Z', data:geneTypes,
  formatter:n=>n==='Hypothetical'?'Hypo-\nthetical':n,
  textStyle:{fontSize:23, color:INK, fontFamily:FONT, lineHeight:28}, itemStyle:{borderColor:'#1a1a1a', borderWidth:1.2}};

// ---- Graphic annotations
const T = (x,y,text,o={})=>Object.assign({type:'text', x, y, z:10, style:Object.assign({text, fill:INK, font:(o.size||25)+'px '+FONT, align:o.align||'left', verticalAlign:'middle'}, o.style||{})}, o.el||{});
const shade = (pts, rgb)=>({type:'polygon', z:0, shape:{points:pts}, style:{fill:{type:'linear', x:0, y:0, x2:0, y2:1, colorStops:[{offset:0, color:'rgba('+rgb+',0.45)'},{offset:1, color:'rgba('+rgb+',0.08)'}]}}});
const els = [];
[['A',23,18],['B',1103,18],['C',1103,280],['D',1108,523],['E',1664,523]].forEach(([t,x,y])=>els.push(T(x,y,t,{size:30, align:'center', style:{font:'bold 30px '+FONT}})));
titleA.forEach(([sp,st],i)=>{
  const ys = [62,312,557,804,1049];
  els.push(T(140, ys[i], '{i|'+sp+'} '+st, {style:{rich:{i:{fontStyle:'italic', fontSize:25, fontFamily:FONT, fill:INK}}}}));
});
els.push({type:'text', x:52, y:655, rotation:Math.PI/2, z:10, style:{text:'{n|Log}{s|10}{n| normalized coverage}', align:'center', verticalAlign:'middle', fill:INK, font:'25px '+FONT,
  rich:{n:{fontSize:25, fontFamily:FONT, fill:INK}, s:{fontSize:14, fontFamily:FONT, fill:INK, verticalAlign:'bottom', padding:[10,0,0,0]}}}});
els.push({type:'rect', z:0, shape:{x:912, y:80, width:140, height:441}, style:{fill:'#eef0f6'}});
els.push({type:'rect', z:0, shape:{x:912, y:80, width:140, height:34}, style:{fill:'#e6e9f1'}});
els.push(T(921, 98, 'arCOG IDs', {size:24}));
els.push(shade([[1183,446],[1319,446],[1428,548],[1402,548]], '123,108,192'));
els.push(shade([[1359,446],[1495,446],[1547,548],[1531,548]], '58,139,128'));
els.push(shade([[1535,446],[1671,446],[1577,548],[1563,548]], '128,128,128'));
const boxCol = ['#7b6cc0','#3b8b80','#7f7f7f'];
[1183,1359,1535].forEach((x,i)=>{
  els.push({type:'rect', z:2, shape:{x, y:422, width:136, height:24, r:5}, style:{fill:boxCol[i], stroke:'#333', lineWidth:1.2}});
  els.push(T(x+68, 434.5, logoNames[i], {size:23, align:'center', style:{fill:'#fff'}}));
});
els.push({type:'text', x:1131, y:363, rotation:Math.PI/2, z:10, style:{text:'Bits', align:'center', verticalAlign:'middle', fill:INK, font:'25px '+FONT}});
els.push({type:'rect', z:1, shape:{x:1152, y:462, width:145, height:78}, style:{fill:'#eef0f6'}});
els.push(T(1224, 478, '{n|-log}{s|10}{n|(p-value)}', {align:'center', style:{rich:{n:{fontSize:23, fontFamily:FONT, fill:INK}, s:{fontSize:13, fontFamily:FONT, fill:INK, verticalAlign:'bottom', padding:[9,0,0,0]}}}}));
pLegend.forEach((p,i)=>{
  const cx = [1177,1224,1272][i];
  els.push({type:'rect', z:2, shape:{x:cx-11, y:491, width:22, height:23, r:4}, style:{fill:scaleColor(P_STOPS.leg, p), stroke:'#222', lineWidth:1.5}});
  els.push(T(cx, 527, String(p), {size:23, align:'center'}));
});
els.push({type:'rect', z:0, shape:{x:1752, y:287, width:145, height:76}, style:{fill:'#eef0f6'}});
els.push(T(1824, 299, 'Z-score TPM', {size:23, align:'center'}));
els.push({type:'rect', z:0, shape:{x:1752, y:462, width:145, height:78}, style:{fill:'#eef0f6'}});
els.push(T(1824, 478, '{n|log}{s|2}{n|FC T}{f|freq}', {align:'center', style:{rich:{n:{fontSize:23, fontFamily:FONT, fill:INK}, s:{fontSize:13, fontFamily:FONT, fill:INK, verticalAlign:'bottom', padding:[9,0,0,0]}, f:{fontSize:17, fontFamily:FONT, fill:INK, verticalAlign:'bottom', padding:[6,0,0,0]}}}}));
els.push({type:'rect', z:50, shape:{x:1303, y:79, width:590, height:198}, style:{fill:null, stroke:'#111', lineWidth:2.5}});
els.push({type:'rect', z:50, shape:{x:1753, y:547, width:140, height:751}, style:{fill:null, stroke:'#111', lineWidth:2.5}});
option.graphic = {elements:els};

const chart = echarts.init(document.getElementById('c'), null, {renderer:'canvas', width:1901, height:1367});
chart.setOption(option);
</script>
</body></html>
